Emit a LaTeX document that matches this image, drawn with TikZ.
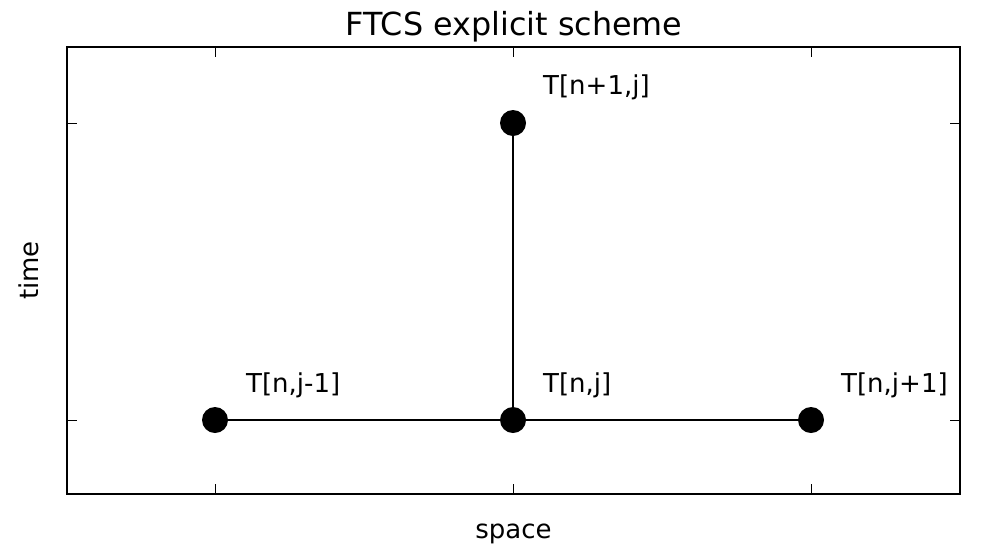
\documentclass[tikz,border=0pt]{standalone}
\usepackage{fontspec}
\setmainfont{DejaVu Sans}
\begin{document}
\begin{tikzpicture}[x=1pt,y=-1pt,
  dot/.style={circle,fill=black,inner sep=0pt,minimum size=26pt},
  lbl/.style={anchor=base west,inner sep=0pt,font=\fontsize{26}{30}\selectfont},
  conn/.style={line width=2.4pt},
  tick/.style={line width=1pt}]
\useasboundingbox (0,0) rectangle (982,558);
% connectors first (behind dots)
\coordinate (pL) at (215,420);
\coordinate (pC) at (513,420);
\coordinate (pR) at (811,420);
\coordinate (pT) at (513,123);
\draw[conn] (pL) -- (pR);
\draw[conn] (pC) -- (pT);
\node[dot] (jm) at (pL) {};
\node[dot] (j) at (pC) {};
\node[dot] (jp) at (pR) {};
\node[dot] (np) at (pT) {};
% ticks
\foreach \x in {215,513,811} {
  \draw[tick] (\x,494) -- (\x,484);
  \draw[tick] (\x,47) -- (\x,57);
}
\foreach \y in {123,420} {
  \draw[tick] (67,\y) -- (77,\y);
  \draw[tick] (960,\y) -- (950,\y);
}
\draw[line width=2.4pt] (67,47) rectangle (960,494);
% labels
\node[lbl] (ljm) at (246,392) {T[n,j-1]};
\node[lbl] (lj) at (543,392) {T[n,j]};
\node[lbl] (ljp) at (841,392) {T[n,j+1]};
\node[lbl] (lnp) at (543,94) {T[n+1,j]};
\node[anchor=base,inner sep=0pt,font=\fontsize{31.8}{36}\selectfont] (title) at (514,35) {FTCS explicit scheme};
\node[anchor=base,inner sep=0pt,font=\fontsize{26}{30}\selectfont] (xl) at (513.5,538) {space};
\node[anchor=base,inner sep=0pt,rotate=90,font=\fontsize{26}{30}\selectfont] (yl) at (38,270.5) {time};
\end{tikzpicture}
\end{document}
